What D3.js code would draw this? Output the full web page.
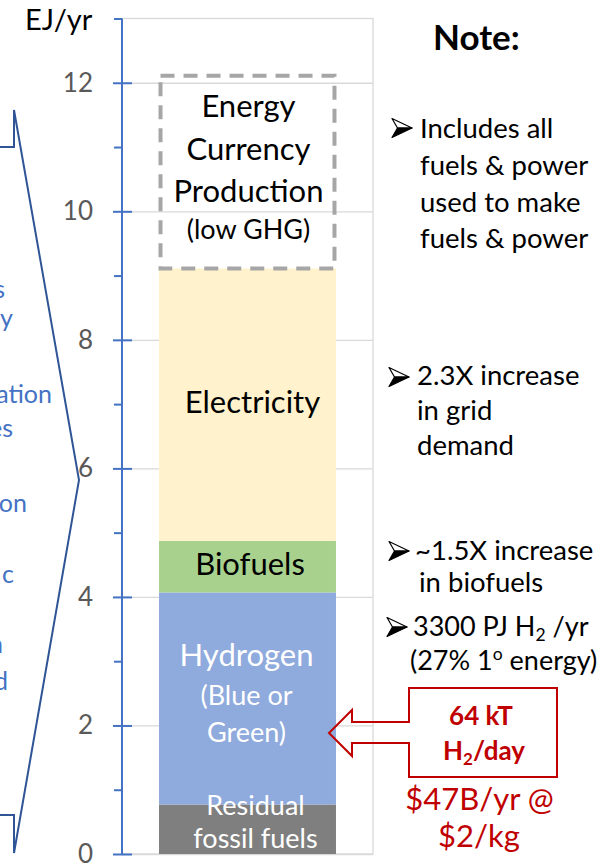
<!DOCTYPE html>
<html><head><meta charset="utf-8">
<script src="https://cdn.jsdelivr.net/npm/d3@7"></script>
<style>body{margin:0;background:#fff} svg{display:block;font-family:Lato,"Open Sans",sans-serif}</style>
</head><body><svg id="c" width="613" height="864"></svg>
<script>
// ---------- data ----------
const scenario = ["Scenario"];
const categories = ["Residual fossil fuels", "Hydrogen", "Biofuels", "Electricity", "Energy Currency Production"];
const values = [0.77, 3.3, 0.8, 4.24, 3.0];
const majorTicks = [0, 2, 4, 6, 8, 10, 12];
const minorTicks = [1, 3, 5, 7, 9, 11, 13];
const yUnit = "EJ/yr";
const barLabels = [
  ["Residual", "fossil fuels"],
  ["Hydrogen", "(Blue or", "Green)"],
  ["Biofuels"],
  ["Electricity"],
  ["Energy", "Currency", "Production", "(low GHG)"]
];
const noteTitle = "Note:";
const leftFragments = ["s", "y", "ation", "es", "on", "c", "n", "d"];

// ---------- styles / layout ----------
const fills = ["#7f7f7f", "#8faadc", "#a9d18e", "#fff2cc", "none"];
const svg = d3.select("#c");
const y = d3.scaleLinear().domain([0, 13]).range([854, 18.5]);
const x = d3.scaleBand().domain(scenario).range([122, 373]).paddingInner(0.173).paddingOuter(0.173);
const X0 = 122, X1 = 373;
const blue = "#4472c4", red = "#c00000";

// gridlines
svg.append("g").attr("transform", `translate(${X0},0)`)
  .call(d3.axisRight(y).tickValues(majorTicks).tickSize(X1 - X0).tickFormat(""))
  .call(g => g.select(".domain").remove())
  .call(g => g.selectAll("line").attr("stroke", "#d9d9d9").attr("stroke-width", 1.3));
// plot border
svg.append("rect").attr("x", X0).attr("y", y(13)).attr("width", X1 - X0).attr("height", y(0) - y(13))
  .attr("fill", "none").attr("stroke", "#d9d9d9").attr("stroke-width", 1.3);

// stacked bar
const row = Object.fromEntries(categories.map((c, i) => [c, values[i]]));
const series = d3.stack().keys(categories)([row]);
const bx = x(scenario[0]), bw = x.bandwidth();
series.forEach((s, i) => {
  const d = s[0];
  if (fills[i] !== "none") {
    svg.append("rect").attr("x", bx).attr("y", y(d[1])).attr("width", bw)
      .attr("height", y(d[0]) - y(d[1])).attr("fill", fills[i]);
  } else {
    svg.append("rect").attr("x", bx + 1.5).attr("y", y(d[1])).attr("width", bw - 3)
      .attr("height", y(d[0]) - y(d[1])).attr("fill", "none")
      .attr("stroke", "#a6a6a6").attr("stroke-width", 4).attr("stroke-dasharray", "14 9");
  }
});

// bar labels
const labelSpec = [
  {dx: 8, col: "#fff", lines: [[-14, 27], [19, 27]]},
  {dx: -1, col: "#fff", lines: [[-32.5, 31], [6.5, 27], [43.5, 27]]},
  {dx: 2.5, col: "#000", lines: [[8.5, 31]]},
  {dx: 5, col: "#000", lines: [[8, 31]]},
  {dx: 1, col: "#000", lines: [[-55, 31], [-12, 31], [30, 31], [67, 27]]}
];
series.forEach((s, i) => {
  const d = s[0];
  const cy = (y(d[0]) + y(d[1])) / 2;
  const cx = bx + bw / 2 + labelSpec[i].dx;
  barLabels[i].forEach((t, j) => {
    const [off, fs] = labelSpec[i].lines[j];
    svg.append("text").attr("x", cx).attr("y", cy + off).attr("text-anchor", "middle")
      .attr("font-size", fs).attr("fill", labelSpec[i].col).text(t);
  });
});

// axis: outer major ticks with labels
svg.append("g").attr("transform", `translate(${X0},0)`)
  .call(d3.axisLeft(y).tickValues(majorTicks).tickSize(9).tickPadding(20).tickFormat(d3.format("d")))
  .call(g => g.select(".domain").remove())
  .call(g => g.selectAll("line").attr("stroke", blue).attr("stroke-width", 2))
  .call(g => g.selectAll("text").attr("font-size", 26).attr("fill", "#595959")
    .attr("font-family", 'Lato,"Open Sans",sans-serif'));
// inner part of major ticks
svg.append("g").attr("transform", `translate(${X0},0)`)
  .call(d3.axisRight(y).tickValues(majorTicks).tickSize(10).tickFormat(""))
  .call(g => g.select(".domain").remove())
  .call(g => g.selectAll("line").attr("stroke", blue).attr("stroke-width", 2));
// minor ticks
svg.append("g").attr("transform", `translate(${X0},0)`)
  .call(d3.axisLeft(y).tickValues(minorTicks).tickSize(8).tickFormat(""))
  .call(g => g.select(".domain").remove())
  .call(g => g.selectAll("line").attr("stroke", blue).attr("stroke-width", 2));
// axis line
svg.append("line").attr("x1", X0).attr("x2", X0).attr("y1", y(13)).attr("y2", y(0))
  .attr("stroke", blue).attr("stroke-width", 2);

svg.append("text").attr("x", 25).attr("y", 30).attr("font-size", 29).attr("fill", "#000").text(yUnit);

// left chevron callout & cut-off text
svg.append("path").attr("d", "M0,147H14V110L79,480L14,853V815H0")
  .attr("fill", "none").attr("stroke", "#2f5597").attr("stroke-width", 2);
const fragPos = [[5, 298], [13, 327], [52, 403], [13, 437], [27, 512], [14, 583], [3, 653], [8, 690]];
leftFragments.forEach((t, i) => {
  svg.append("text").attr("x", fragPos[i][0]).attr("y", fragPos[i][1]).attr("text-anchor", "end")
    .attr("font-size", 25).attr("fill", blue).text(t);
});

// notes
svg.append("text").attr("x", 433).attr("y", 50).attr("font-size", 35).attr("font-weight", "bold").text(noteTitle);
function bullet(bx, by) {
  const g = svg.append("g").attr("transform", `translate(${bx},${by})`);
  g.append("path").attr("d", "M0,-9.5L20,0L5.5,0Z").attr("fill", "#fff").attr("stroke", "#000").attr("stroke-width", 1.2).attr("stroke-linejoin", "round");
  g.append("path").attr("d", "M0,9.5L20,0L5.5,0Z").attr("fill", "#000").attr("stroke", "#000").attr("stroke-width", 1.2).attr("stroke-linejoin", "round");
}
function note(lines, bxy, x0, ys, fs) {
  bullet(bxy[0], bxy[1]);
  lines.forEach((l, i) => {
    const t = svg.append("text").attr("x", x0[i]).attr("y", ys[i]).attr("font-size", fs).attr("fill", "#000");
    l.forEach(seg => {
      const ts = t.append("tspan").text(seg.t);
      if (seg.sub) ts.attr("font-size", fs * 0.65).attr("dy", 5);
      if (seg.sup) ts.attr("font-size", fs * 0.65).attr("dy", -10);
      if (seg.reset) ts.attr("dy", seg.reset);
    });
  });
}
note([[{t: "Includes all"}], [{t: "fuels & power"}], [{t: "used to make"}], [{t: "fuels & power"}]],
  [392, 128], [420, 420, 420, 420], [138, 175, 212, 248], 27.5);
note([[{t: "2.3X increase"}], [{t: "in grid"}], [{t: "demand"}]],
  [389, 377], [417, 417, 417], [385, 420, 455], 27.5);
note([[{t: "~1.5X increase"}], [{t: "in biofuels"}]],
  [389, 551], [415, 419], [560, 592], 27.5);
note([[{t: "3300 PJ H"}, {t: "2", sub: true}, {t: " /yr", reset: -5}],
      [{t: "(27% 1"}, {t: "o", sup: true}, {t: " energy)", reset: 10}]],
  [387, 627], [413, 410], [636, 670], 27);

// red callout
svg.append("path").attr("d", "M409,688H557V777H409V743H352V756L329,733L352,710V722H409Z")
  .attr("fill", "none").attr("stroke", red).attr("stroke-width", 2);
svg.append("text").attr("x", 481).attr("y", 725).attr("text-anchor", "middle").attr("font-size", 26)
  .attr("font-weight", "bold").attr("fill", red).text("64 kT");
const h2 = svg.append("text").attr("x", 484).attr("y", 760).attr("text-anchor", "middle").attr("font-size", 26)
  .attr("font-weight", "bold").attr("fill", red);
h2.append("tspan").text("H");
h2.append("tspan").attr("font-size", 17).attr("dy", 5).text("2");
h2.append("tspan").attr("dy", -5).text("/day");
svg.append("text").attr("x", 479.5).attr("y", 810).attr("text-anchor", "middle").attr("font-size", 31)
  .attr("fill", red).text("$47B/yr @");
svg.append("text").attr("x", 479).attr("y", 847).attr("text-anchor", "middle").attr("font-size", 31)
  .attr("fill", red).text("$2/kg");
</script></body></html>
